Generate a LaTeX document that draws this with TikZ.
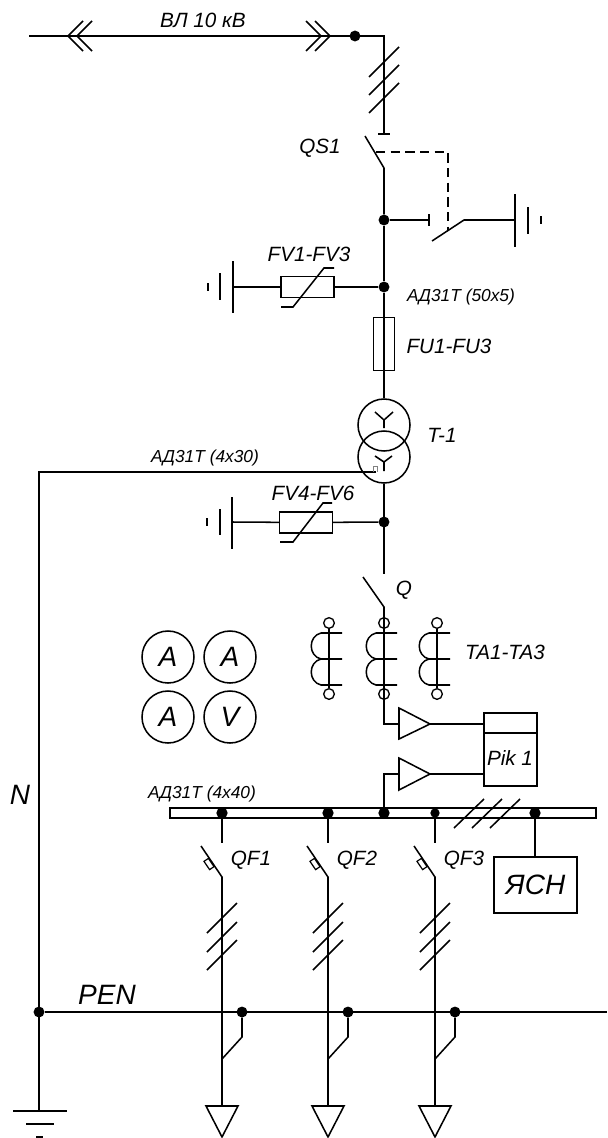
\documentclass[tikz,border=0pt]{standalone}
\usepackage{fontspec}
\setmainfont{Liberation Sans}
\usetikzlibrary{calc}
\tikzset{
  wire/.style={line width=1.15pt},
  dot/.style={circle, fill=black, inner sep=0pt, minimum size=8.2pt},
  lbl/.style={inner sep=0pt, font=\itshape\fontsize{15.5}{18}\selectfont},
  smalllbl/.style={inner sep=0pt, font=\itshape\fontsize{13}{15}\selectfont},
  biglbl/.style={inner sep=0pt, font=\itshape\fontsize{21}{24}\selectfont},
  meter/.style={draw, line width=1.15pt, circle, inner sep=0pt, minimum size=39pt, font=\itshape\fontsize{21}{24}\selectfont},
  winding/.style={draw, line width=1.15pt, circle, inner sep=0pt, minimum size=39pt},
  varbox/.style={draw, line width=1.15pt, inner sep=0pt, minimum width=39.5pt, minimum height=16pt},
  term/.style={draw, line width=1pt, circle, inner sep=0pt, minimum size=8pt}
}
\begin{document}
\begin{tikzpicture}[x=0.75pt, y=-0.75pt]
    \useasboundingbox (0,0) rectangle (607,1138);

    % Incoming line
    \coordinate (lineL) at (29,36);
    \coordinate (corner) at (384,36);
    \coordinate (qsFixed) at (384,134);
    \node[dot] (lineDot) at (355,36) {};
    \draw[wire] (lineL) -- (corner) -- (qsFixed);
    \draw[wire] (83,21) -- (68,36) -- (83,51);
    \draw[wire] (92,21) -- (77,36) -- (92,51);
    \draw[wire] (306,21) -- (321,36) -- (306,51);
    \draw[wire] (315,21) -- (330,36) -- (315,51);
    \node[lbl] (lineLbl) at (203,20) {ВЛ 10 кВ};
    \foreach \y in {62,80,98}
      \draw[wire] (369,\y+15) -- (399,\y-15);

    % Disconnector
    \draw[wire] ($(qsFixed)+(-6,0)$) -- ($(qsFixed)+(6,0)$);
    \coordinate (qsPivot) at (384,168);
    \node[dot] (qsDot) at (384,220) {};
    \node[dot] (fvDot) at (384,287) {};
    \draw[wire] (365,136) -- (qsPivot) -- (qsDot);
    \draw[wire] (qsDot) -- (fvDot);
    \draw[wire, dashed, dash pattern=on 7pt off 4pt] (376,152) -- (448,152) -- (448,230);
    \node[lbl] (qsLbl) at (320,148) {QS1};

    % Earthing switch
    \coordinate (esStub) at (429,220);
    \coordinate (esPivot) at (464,220);
    \coordinate (esGnd) at (515,220);
    \draw[wire] (qsDot) -- (esStub);
    \draw[wire] ($(esStub)+(0,-6)$) -- ($(esStub)+(0,6)$);
    \draw[wire] (432,241) -- (esPivot) -- (esGnd);
    \draw[wire] (515,194) -- (515,247);
    \draw[wire] (528,207) -- (528,234);
    \draw[wire] (541,216) -- (541,224);

    % Surge arresters
    \node[varbox] (fvA) at (307.5,287) {};
    \node[varbox] (fvB) at (306,522.5) {};
    \node[dot] (fvBDot) at (384,522) {};
    \coordinate (gndA) at (233,287);
    \coordinate (gndB) at (232,522);
    \draw[wire] (fvDot) -- (fvA);
    \draw[wire] (fvA) -- (gndA);
    \draw[wire] (fvBDot) -- (fvB);
    \draw[wire] (fvB) -- (gndB);
    \draw[wire] (281,307) -- (293,307) -- (324,268) -- (334,268);
    \draw[wire] (280,542) -- (293,542) -- (323,503) -- (332,503);
    \draw[wire] (233,261) -- (233,313);
    \draw[wire] (220,273) -- (220,300);
    \draw[wire] (208,283) -- (208,291);
    \draw[wire] (232,497) -- (232,549);
    \draw[wire] (220,509) -- (220,535);
    \draw[wire] (207,518) -- (207,526);
    \node[lbl] (fvALbl) at (309,254) {FV1-FV3};
    \node[lbl] (fvBLbl) at (313,493) {FV4-FV6};
    \node[smalllbl] (barA) at (461,297) {АД31Т (50х5)};

    % Fuse and transformer
    \node[draw, line width=1.15pt, inner sep=0pt, minimum width=16pt, minimum height=39.5pt] (fuse) at (384,344) {};
    \node[winding] (trUp) at (384,425) {};
    \node[winding] (trLow) at (384,457) {};
    \draw[wire] (fvDot) -- (trUp);
    \draw[wire] (384,428) -- (384,420) -- (375,412);
    \draw[wire] (384,420) -- (393,412);
    \draw[wire] (384,471) -- (384,462) -- (375,456);
    \draw[wire] (384,462) -- (392,456);
    \node[lbl] (fuseLbl) at (449,346) {FU1-FU3};
    \node[lbl] (trLbl) at (442,435) {T-1};

    % Neutral
    \coordinate (nStart) at (376,472);
    \coordinate (nCorner) at (39,472);
    \coordinate (nGnd) at (39,1111);
    \node[dot] (penDot) at (39,1012) {};
    \draw[wire] (nStart) -- (nCorner) -- (nGnd);
    \draw[gray, line width=0.4pt] (373,472) -- (373,466) -- (377,466) -- (377,472);
    \draw[wire] (13,1111) -- (67,1111);
    \draw[wire] (26,1124) -- (54,1124);
    \draw[wire] (36,1137) -- (43,1137);
    \node[smalllbl] (barN) at (205,458) {АД31Т (4x30)};
    \node[biglbl] (nLbl) at (20,795) {N};

    % Breaker
    \coordinate (qEnd) at (384,574);
    \coordinate (qPivot) at (384,607);
    \coordinate (ampInA) at (384,724);
    \draw[wire] (trLow) -- (qEnd);
    \draw[wire] (363,577) -- (qPivot) -- (ampInA) -- (399,724);
    \node[lbl] (qLbl) at (404,590) {Q};

    % Current transformers
    \foreach \x/\name in {329/a,384/b,437/c} {
      \node[term, fill=none] (top\name) at (\x,623) {};
      \node[term, fill=none] (bot\name) at (\x,694) {};
      \draw[wire] (top\name) -- (bot\name);
      \draw[wire] (\x+13,633) -- (\x-8,633) .. controls (\x-21,636) and (\x-21,656) .. (\x-8,659) -- (\x+13,659);
      \draw[wire] (\x-8,659) .. controls (\x-21,662) and (\x-21,682) .. (\x-8,685) -- (\x+13,685);
    }
    \node[lbl] (taLbl) at (505,652) {TA1-TA3};

    % Meters
    \node[meter] (mA1) at (168,657) {A};
    \node[meter] (mA2) at (230,657) {A};
    \node[meter] (mA3) at (168,717) {A};
    \node[meter] (mV) at (230,717) {V};

    % Meter unit
    \coordinate (pikA) at (484,724);
    \coordinate (pikB) at (484,774);
    \draw[wire] (484,713) rectangle (537,786);
    \draw[wire] (484,733) -- (537,733);
    \node[lbl] (pikLbl) at (510,758) {Pik 1};
    \draw[wire] (399,708) -- (399,739) -- (430,724) -- cycle;
    \draw[wire] (399,758) -- (399,790) -- (430,774) -- cycle;
    \draw[wire] (430,724) -- (pikA);
    \draw[wire] (430,774) -- (pikB);

    % Bus
    \node[draw, line width=1.15pt, inner sep=0pt, minimum width=319.5pt, minimum height=7.5pt] (bus) at (383,813) {};
    \node[smalllbl] (barBus) at (202,794) {АД31Т (4x40)};
    \node[dot, minimum size=8.5pt] (busDotMid) at (384,813) {};
    \node[dot, minimum size=8.5pt] (busDotAux) at (535,813) {};
    \draw[wire] (busDotMid) -- (384,774) -- (399,774);
    \foreach \x in {469,487,505}
      \draw[wire] (\x-15,828) -- (\x+15,799);

    % Auxiliary cabinet
    \node[draw, line width=1.15pt, inner sep=0pt, minimum width=62pt, minimum height=42pt, biglbl] (ysn) at (535.5,885) {ЯСН};
    \draw[wire] (busDotAux) -- (535,857);

    % Feeders
    \draw[wire] (penDot) -- (607,1012);
    \node[biglbl] (penLbl) at (107,995) {PEN};
    \foreach \x/\n/\d in {222/1/8.5pt,328/2/8.5pt,435/3/7pt} {
      \node[dot, minimum size=\d] (busDot\n) at (\x,813) {};
      \node[dot] (penDot\n) at (\x+20,1012) {};
      \node[lbl] (qfLbl\n) at (\x+29,860) {QF\n};
      \coordinate (qfEnd\n) at (\x,843);
      \coordinate (qfPivot\n) at (\x,877);
      \coordinate (tap\n) at (\x,1059);
      \coordinate (load\n) at (\x,1106);
      \draw[wire] (busDot\n) -- (qfEnd\n);
      \draw[wire] (\x-21,846) -- (qfPivot\n) -- (load\n);
      \node[draw, line width=0.9pt, inner sep=0pt, minimum width=7.5pt, minimum height=4pt, rotate=-56] (qfBox\n) at (\x-13,864) {};
      \draw[wire] (penDot\n) -- (\x+20,1037) -- (tap\n);
      \draw[wire] (\x-16,1106) -- (\x+16,1106) -- (\x,1137) -- cycle;
      \foreach \y in {918,937,955}
        \draw[wire] (\x-15,\y+15) -- (\x+15,\y-15);
    }
  \end{tikzpicture}
\end{document}
